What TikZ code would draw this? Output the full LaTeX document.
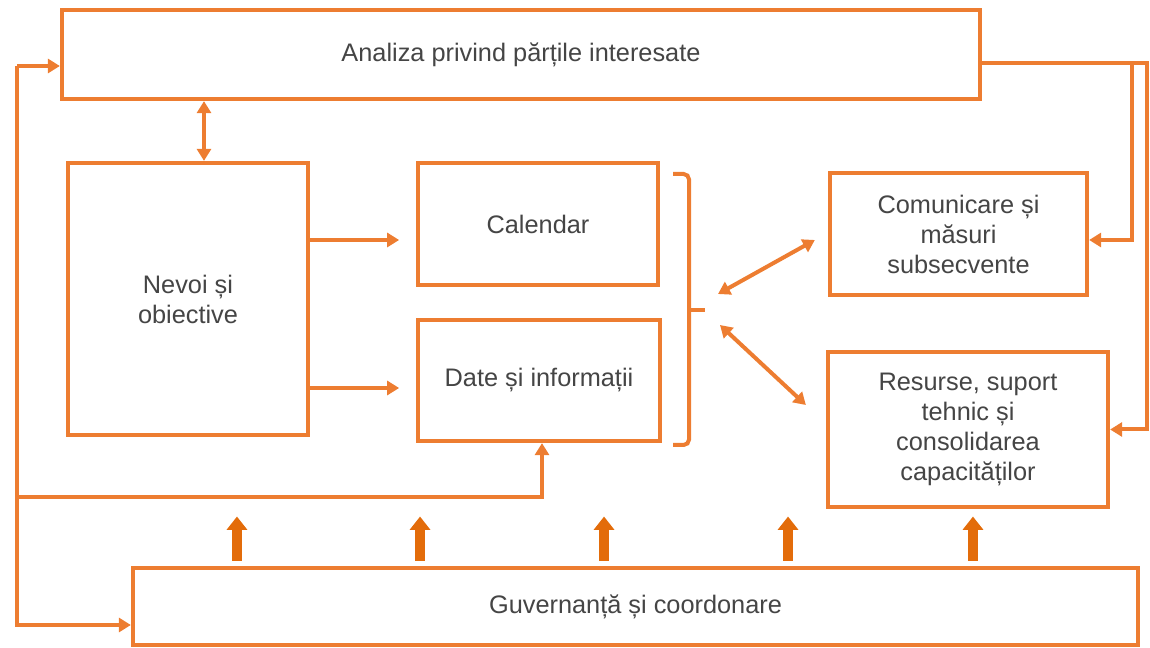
\documentclass[tikz,border=0pt]{standalone}
\usepackage{fontspec}
\setmainfont{Liberation Sans}
\usetikzlibrary{arrows.meta,calc}
\definecolor{org}{HTML}{ED7D31}
\definecolor{orgd}{HTML}{E36C0A}
\definecolor{txt}{HTML}{454545}
\begin{document}
\begin{tikzpicture}[x=0.75pt,y=-0.75pt,
  box/.style={draw=org,line width=3.2pt,fill=white,inner sep=2pt,align=center,text=txt,
    font=\fontsize{19}{22.5}\selectfont},
  arr/.style={draw=org,line width=3pt,-{Triangle[length=9pt,width=10.5pt]}},
  dbl/.style={draw=org,line width=3pt,{Triangle[length=9pt,width=10.5pt]}-{Triangle[length=9pt,width=10.5pt]}},
  fat/.style={draw=orgd,line width=7.5pt,-{Triangle[length=10pt,width=15pt]}},
  brack/.style={draw=org,line width=3pt,rounded corners=4pt}]
\useasboundingbox (0,0) rectangle (1150,648);

% boxes
\node[box,minimum width=688.5pt,minimum height=66.75pt] (top) at (521,54.5) {Analiza privind părțile interesate};
\node[box,minimum width=180pt,minimum height=204pt] (nev) at (188,299) {Nevoi și\\obiective};
\node[box,minimum width=180pt,minimum height=91.5pt] (cal) at (538,224) {Calendar};
\node[box,minimum width=181.5pt,minimum height=90.75pt] (dat) at (539,380.5) {Date și informații};
\node[box,minimum width=192.75pt,minimum height=91.5pt] (com) at (958.5,234) {Comunicare și\\măsuri\\subsecvente};
\node[box,minimum width=210pt,minimum height=116.25pt] (res) at (968,429.5) {Resurse, suport\\tehnic și\\consolidarea\\capacităților};
\node[box,minimum width=753.75pt,minimum height=57.75pt] (gov) at (635.5,606.5) {Guvernanță și coordonare};

% bracket
\coordinate (brk) at (705,310);
\draw[brack] (673,174) -- (689,174) -- (689,445) -- (673,445);
\draw[draw=org,line width=3pt] (689,310) -- (brk);

% top double arrow
\coordinate (tn) at ([xshift=12pt]nev.north);
\draw[dbl] (top.south -| tn) -- (tn);

% Nevoi -> Calendar / Date
\draw[arr] ([yshift=44.25pt]nev.east) -- ++(89,0);
\draw[arr] ([yshift=-66.75pt]nev.east) -- ++(89,0);

% bracket <-> right boxes
\draw[dbl] ($(brk)+(13,-16)$) -- ($(com.west)+(-13,6)$);
\draw[dbl] ($(brk)+(15,15)$) -- ($(res.west)+(-20,-24.5)$);

% right loop
\coordinate (ro) at (1147,0);
\coordinate (rb) at (1132,0);
\coordinate (te) at ([yshift=-6.4pt]top.east);
\draw[arr] (te) -| (ro |- res.east) -- (res.east);
\draw[arr] (rb |- te) |- ([yshift=-4.5pt]com.east);

% left loop
\coordinate (L1) at (17,66);
\coordinate (L2) at (17,625);
\coordinate (L3) at (17,497);
\draw[arr] (L1) -- (L2) -- (gov.west |- L2);
\draw[arr] (L1) -- (top.west |- L1);
\draw[arr] (L3) -| ([xshift=2.25pt]dat.south);

% governance arrows
\foreach \dx in {-298.9,-161.6,-23.6,114.4,253.1}
  \draw[fat] ([xshift=\dx pt,yshift=4pt]gov.north) -- ++(0,-44);
\end{tikzpicture}
\end{document}
